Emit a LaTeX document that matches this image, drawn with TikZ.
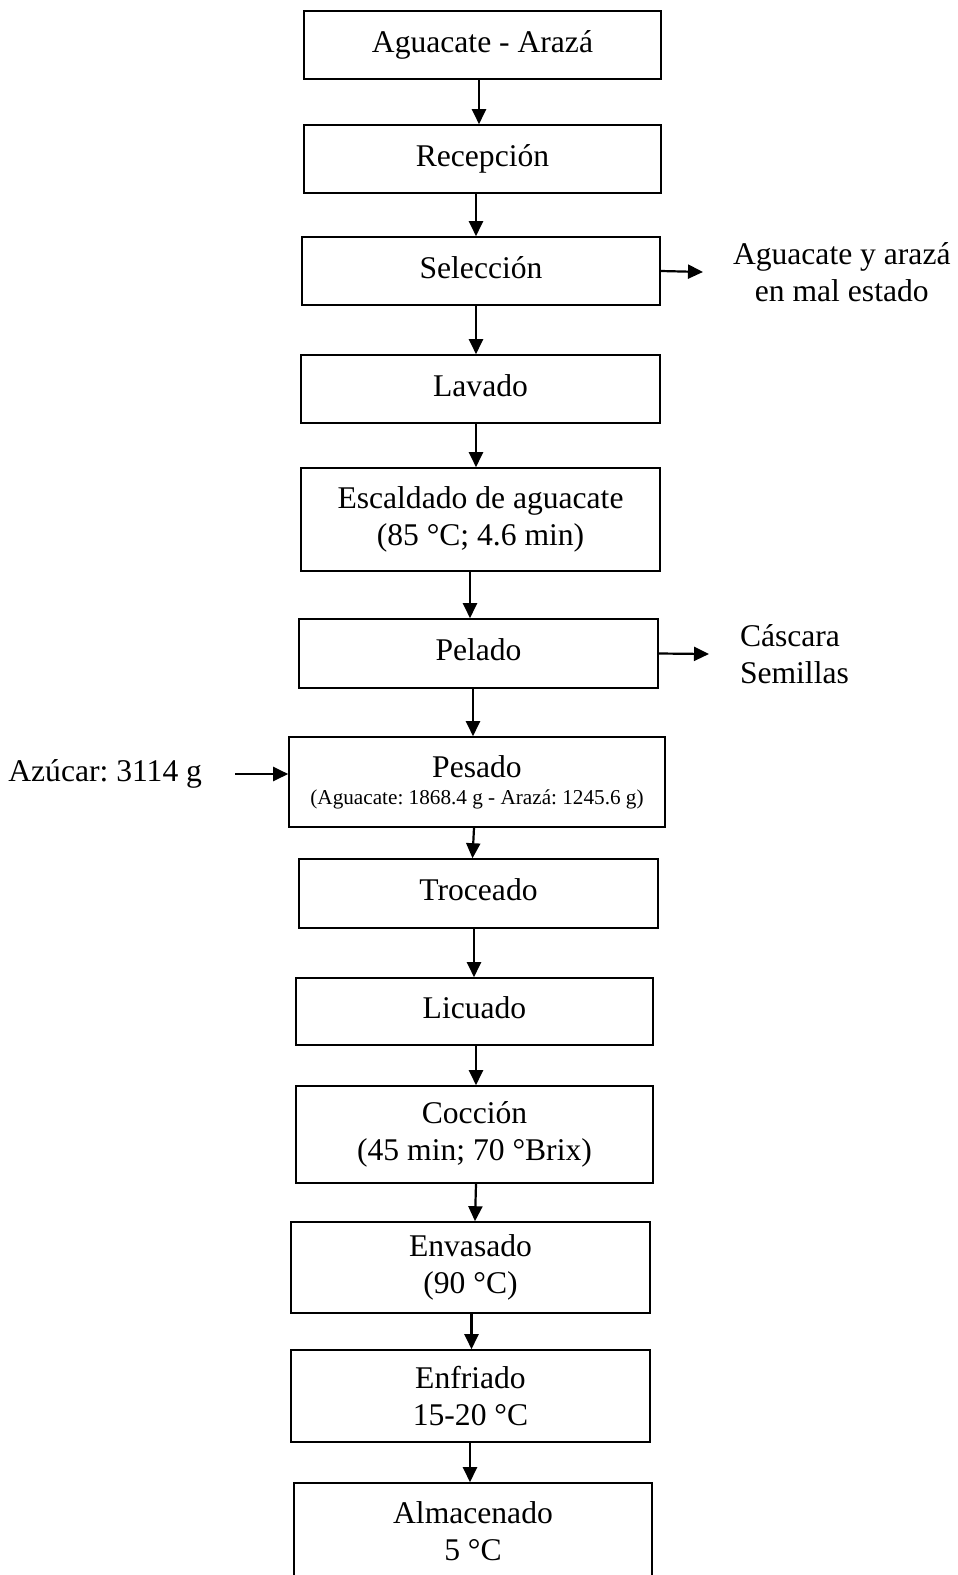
\documentclass[tikz,border=0pt]{standalone}
\usepackage{fontspec}
\setmainfont{Liberation Serif}
\usetikzlibrary{arrows.meta}
\frenchspacing

\begin{document}
\begin{tikzpicture}[x=0.5pt,y=-0.5pt,
        caja/.style={draw,line width=0.8pt,align=center,inner sep=0pt,font=\fontsize{15.8}{18.2}\selectfont},
        texto/.style={align=center,inner sep=0pt,font=\fontsize{15.8}{18.2}\selectfont},
        flecha/.style={-{Triangle[length=7.5pt,width=7pt]},line width=1.1pt}]
            \useasboundingbox (0,0) rectangle (958,1575);

            % Pasos del proceso
            \node[caja,minimum width=178.5pt,minimum height=34pt] (fruta) at (482.5,45) {Aguacate - Arazá};
            \node[caja,minimum width=178.5pt,minimum height=34pt] (recepcion) at (482.5,159) {Recepción};
            \node[caja,minimum width=179pt,minimum height=34pt,text depth=3.5pt] (seleccion) at (481,271) {Selección};
            \node[caja,minimum width=179.5pt,minimum height=34pt,text depth=3.5pt] (lavado) at (480.5,389) {Lavado};
            \node[caja,minimum width=179.5pt,minimum height=51.5pt] (escaldado) at (480.5,519.5) {Escaldado de aguacate\\(85 °C; 4.6 min)};
            \node[caja,minimum width=179.5pt,minimum height=34.5pt,text depth=3.5pt] (pelado) at (478.5,653.5) {Pelado};
            \node[caja,minimum width=188pt,minimum height=45pt] (pesado) at (477,782) {Pesado\\[-4.7pt]{\fontsize{10.6}{12.5}\selectfont (Aguacate: 1868.4 g - Arazá: 1245.6 g)}};
            \node[caja,minimum width=179.5pt,minimum height=34.5pt,text depth=3.5pt] (troceado) at (478.5,893.5) {Troceado};
            \node[caja,minimum width=178.5pt,minimum height=33.5pt,text depth=3.5pt] (licuado) at (474.5,1011.5) {Licuado};
            \node[caja,minimum width=178.5pt,minimum height=48.5pt] (coccion) at (474.5,1134.5) {Cocción\\(45 min; 70 °Brix)};
            \node[caja,minimum width=179.5pt,minimum height=45.5pt] (envasado) at (470.5,1267.5) {Envasado\\(90 °C)};
            \node[caja,minimum width=179.5pt,minimum height=46pt] (enfriado) at (470.5,1396) {Enfriado\\15-20 °C};
            \node[caja,minimum width=179pt,minimum height=48pt] (almacenado) at (473,1531) {Almacenado\\5 °C};

            % Entradas y salidas
            \node[texto,anchor=west,outer xsep=15pt] (desecho) at (703,272) {Aguacate y arazá\\en mal estado};
            \node[texto,align=left,anchor=west,outer xsep=15.5pt] (residuos) at (709,654) {Cáscara\\Semillas};
            \node[texto,anchor=east,outer xsep=16.5pt] (azucar) at (235,774) {Azúcar: 3114 g};

            \draw[flecha] ([xshift=-1.75pt]fruta.south) -- ([xshift=-1.75pt]recepcion.north);
            \draw[flecha] ([xshift=-3.25pt]recepcion.south) -- ([xshift=-2.5pt]seleccion.north);
            \draw[flecha] ([xshift=-2.5pt]seleccion.south) -- ([xshift=-2.25pt]lavado.north);
            \draw[flecha] ([xshift=-2.25pt]lavado.south) -- ([xshift=-2.25pt]escaldado.north);
            \draw[flecha] ([xshift=-5.25pt]escaldado.south) -- ([xshift=-4.25pt]pelado.north);
            \draw[flecha] ([xshift=-2.75pt]pelado.south) -- ([xshift=-2pt]pesado.north);
            \draw[flecha] ([xshift=-1.5pt]pesado.south) -- ([xshift=-3pt]troceado.north);
            \draw[flecha] ([xshift=-2.25pt]troceado.south) -- ([xshift=-0.25pt]licuado.north);
            \draw[flecha] ([xshift=0.75pt]licuado.south) -- ([xshift=0.75pt]coccion.north);
            \draw[flecha] ([xshift=0.75pt]coccion.south) -- ([xshift=2.25pt]envasado.north);
            \draw[flecha] ([xshift=0.5pt]envasado.south) -- ([xshift=0.5pt]enfriado.north);
            \draw[flecha] ([xshift=-0.25pt]enfriado.south) -- ([xshift=-1.5pt]almacenado.north);

            \draw[flecha] (seleccion.east) -- (desecho.west);
            \draw[flecha] (pelado.east) -- (residuos.west);
            \draw[flecha] (azucar.east) -- (azucar.east -| pesado.west);
\end{tikzpicture}
\end{document}
